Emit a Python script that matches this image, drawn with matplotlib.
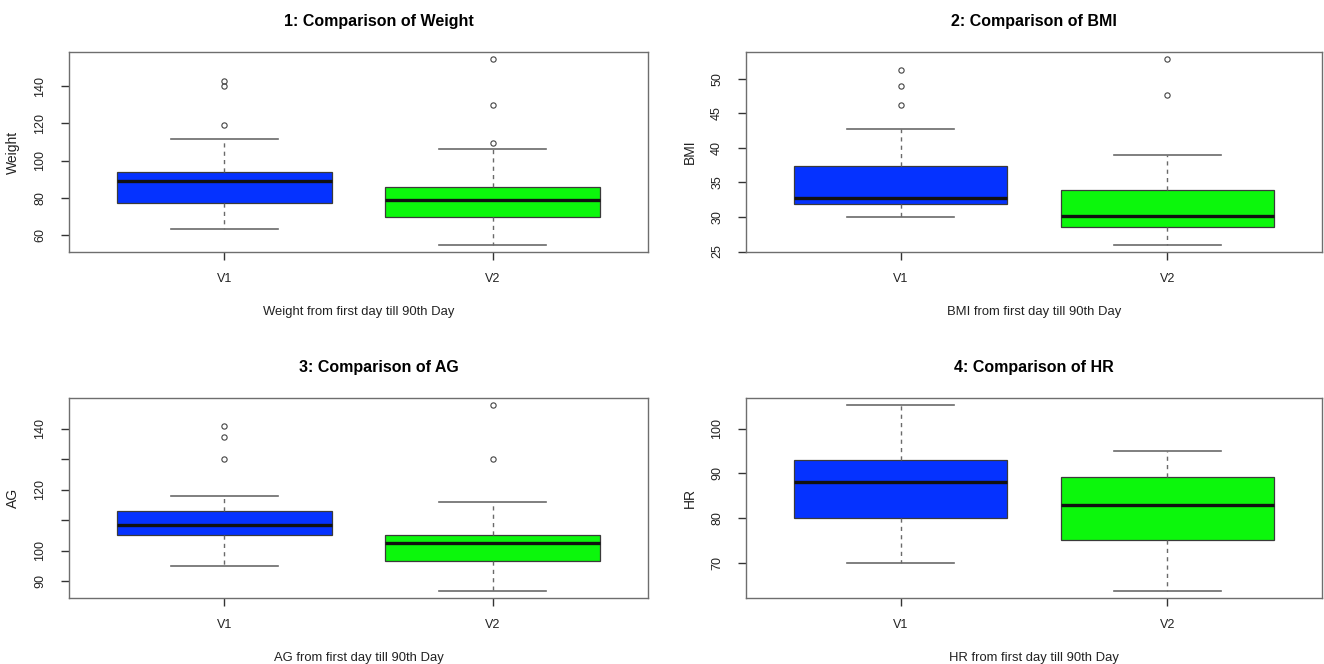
import numpy as np
import matplotlib.pyplot as plt

plt.rcParams['font.family'] = ['Liberation Sans', 'DejaVu Sans']

# Data
groups = ["V1", "V2"]

weight_whislo = [63.6, 55.0]
weight_q1 = [77.3, 69.8]
weight_med = [89.1, 78.8]
weight_q3 = [93.9, 85.9]
weight_whishi = [111.8, 106.5]
weight_out = [[142.7, 140.0, 118.9], [154.3, 129.7, 109.7]]

bmi_whislo = [30.0, 26.0]
bmi_q1 = [31.9, 28.6]
bmi_med = [32.8, 30.1]
bmi_q3 = [37.4, 33.9]
bmi_whishi = [42.8, 38.9]
bmi_out = [[51.3, 48.9, 46.2], [52.8, 47.7]]

ag_whislo = [95.1, 86.9]
ag_q1 = [105.1, 96.6]
ag_med = [108.4, 102.4]
ag_q3 = [113.1, 105.3]
ag_whishi = [118.1, 116.1]
ag_out = [[141.1, 137.4, 130.1], [147.7, 130.1]]

hr_whislo = [70.0, 63.8]
hr_q1 = [80.0, 75.2]
hr_med = [88.1, 83.0]
hr_q3 = [93.1, 89.1]
hr_whishi = [105.2, 95.1]
hr_out = [[], []]

titles = ["1: Comparison of Weight", "2: Comparison of BMI",
          "3: Comparison of AG", "4: Comparison of HR"]
ylabels = ["Weight", "BMI", "AG", "HR"]
xlabels = ["Weight from first day till 90th Day", "BMI from first day till 90th Day",
           "AG from first day till 90th Day", "HR from first day till 90th Day"]
yticks = [[60, 80, 100, 120, 140], [25, 30, 35, 40, 45, 50],
          [90, 100, 110, 120, 130, 140], [70, 80, 90, 100]]
yticklabels = [["60", "80", "100", "120", "140"], ["25", "30", "35", "40", "45", "50"],
               ["90", "100", "", "120", "", "140"], ["70", "80", "90", "100"]]

box_colors = ["#0532ff", "#0cf70c"]


def make_stats(whislo, q1, med, q3, whishi, out):
    stats = []
    for i in range(len(groups)):
        stats.append(dict(label=groups[i], whislo=whislo[i], q1=q1[i], med=med[i],
                          q3=q3[i], whishi=whishi[i], fliers=out[i]))
    return stats


all_stats = [
    make_stats(weight_whislo, weight_q1, weight_med, weight_q3, weight_whishi, weight_out),
    make_stats(bmi_whislo, bmi_q1, bmi_med, bmi_q3, bmi_whishi, bmi_out),
    make_stats(ag_whislo, ag_q1, ag_med, ag_q3, ag_whishi, ag_out),
    make_stats(hr_whislo, hr_q1, hr_med, hr_q3, hr_whishi, hr_out),
]

fig = plt.figure(figsize=(13.24, 6.64), dpi=100)

# axes rectangles in figure fraction (left, bottom, width, height)
rects = [
    (69 / 1324, 1 - 252 / 664, 579 / 1324, 200 / 664),
    (746 / 1324, 1 - 252 / 664, 576 / 1324, 200 / 664),
    (69 / 1324, 1 - 598 / 664, 579 / 1324, 200 / 664),
    (746 / 1324, 1 - 598 / 664, 576 / 1324, 200 / 664),
]
title_x = [0.535, 0.5, 0.535, 0.5]

frame_col = "#6e6e6e"

for k in range(4):
    ax = fig.add_axes(rects[k])
    bp = ax.bxp(all_stats[k], positions=[1, 2], widths=0.8, capwidths=0.4,
                patch_artist=True, showfliers=True,
                boxprops=dict(edgecolor="#3a3a3a", linewidth=0.9),
                medianprops=dict(color="#111111", linewidth=2.4),
                whiskerprops=dict(color="#6a6a6a", linewidth=1.0, linestyle=(0, (3, 3))),
                capprops=dict(color="#6a6a6a", linewidth=1.2),
                flierprops=dict(marker="o", markerfacecolor="none",
                                markeredgecolor="#444444", markersize=3.8,
                                markeredgewidth=0.8))
    for patch, c in zip(bp["boxes"], box_colors):
        patch.set_facecolor(c)

    ax.set_xlim(0.42, 2.58)
    ax.margins(y=0.04)
    ax.set_yticks(yticks[k])
    ax.set_yticklabels(yticklabels[k], rotation=90, va="center")
    ax.set_xticks([1, 2])
    ax.set_xticklabels(groups)

    for s in ax.spines.values():
        s.set_color(frame_col)
        s.set_linewidth(1.0)
    ax.tick_params(axis="both", colors="#333333", labelcolor="#222222",
                   length=5.5, width=1.0, labelsize=9)
    ax.tick_params(axis="y", pad=11)
    ax.tick_params(axis="x", pad=9.5)

    ax.set_title(titles[k], fontsize=11.5, fontweight="bold", x=title_x[k], pad=19)
    ax.set_ylabel(ylabels[k], fontsize=10, labelpad=10, color="#222222")
    ax.set_xlabel(xlabels[k], fontsize=9.4, labelpad=15, color="#222222")

plt.savefig("out.png", dpi=100)
